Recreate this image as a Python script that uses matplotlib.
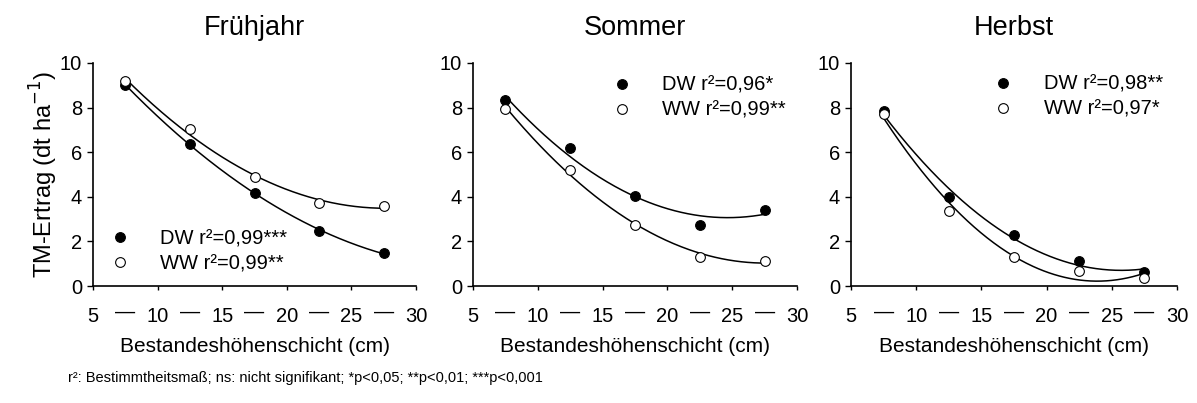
import matplotlib.pyplot as plt
import numpy as np

plt.rcParams['font.family'] = ['Liberation Sans', 'DejaVu Sans']

# Bestandeshoehenschicht midpoints (cm)
schicht = [7.5, 12.5, 17.5, 22.5, 27.5]

seasons = ['Frühjahr', 'Sommer', 'Herbst']

# TM-Ertrag (dt/ha)
dw_fruehjahr = [9.0, 6.37, 4.17, 2.47, 1.47]
ww_fruehjahr = [9.19, 7.03, 4.9, 3.7, 3.58]
dw_sommer = [8.32, 6.17, 4.05, 2.73, 3.42]
ww_sommer = [7.92, 5.22, 2.75, 1.28, 1.13]
dw_herbst = [7.85, 3.97, 2.29, 1.1, 0.65]
ww_herbst = [7.73, 3.35, 1.32, 0.68, 0.37]

dw_labels = ['DW r²=0,99***', 'DW r²=0,96*', 'DW r²=0,98**']
ww_labels = ['WW r²=0,99**', 'WW r²=0,99**', 'WW r²=0,97*']

x_ticks = [5, 10, 15, 20, 25, 30]

dw_all = [dw_fruehjahr, dw_sommer, dw_herbst]
ww_all = [ww_fruehjahr, ww_sommer, ww_herbst]

fig = plt.figure(figsize=(11.97, 4.03), dpi=100)

lefts = [93 / 1197, 473 / 1197, 851 / 1197]
widths = [323 / 1197, 324 / 1197, 326 / 1197]
bottom = (403 - 286) / 403
height = 223 / 403

# legend placement (axes fraction), loc
leg_pos = [('lower left', (0.034, 0.031)), ('upper left', (0.41, 0.97)), ('upper left', (0.418, 0.975))]

for i in range(3):
    ax = fig.add_axes([lefts[i], bottom, widths[i], height])
    xs = np.array(schicht)
    xx = np.linspace(xs[0], xs[-1], 200)
    for ys, fc, lab in [(dw_all[i], 'black', dw_labels[i]), (ww_all[i], 'white', ww_labels[i])]:
        coef = np.polyfit(xs, ys, 2)
        ax.plot(xx, np.polyval(coef, xx), color='black', lw=1.1, zorder=2)
        ax.plot(xs, ys, 'o', ms=7, mfc=fc, mec='black', mew=0.8, label=lab, zorder=3)

    ax.set_xlim(5, 30)
    ax.set_ylim(0, 10)
    ax.set_yticks([0, 2, 4, 6, 8, 10])
    ax.set_xticks(x_ticks)
    ax.set_xticklabels([str(t) for t in x_ticks])
    ax.set_xticks([7.5, 12.5, 17.5, 22.5, 27.5], minor=True)
    ax.set_xticklabels(['—'] * 5, minor=True)
    ax.tick_params(axis='x', which='minor', length=0, pad=12, labelsize=14.5)
    ax.tick_params(axis='x', which='major', length=3, width=1, pad=12, labelsize=14.5)
    ax.tick_params(axis='y', length=4, width=1, labelsize=14.5, pad=4)
    for s in ['top', 'right']:
        ax.spines[s].set_visible(False)
    for s in ['left', 'bottom']:
        ax.spines[s].set_linewidth(1.2)

    ax.set_title(seasons[i], fontsize=19.5, pad=20)
    ax.set_xlabel('Bestandeshöhenschicht (cm)', fontsize=15, labelpad=8)
    if i == 0:
        ax.set_ylabel('TM-Ertrag (dt ha$^{-1}$)', fontsize=17, labelpad=0)

    loc, anchor = leg_pos[i]
    ax.legend(loc=loc, bbox_to_anchor=anchor, frameon=False, fontsize=14.5,
              handletextpad=1.5, handlelength=1.0, labelspacing=0.3,
              borderaxespad=0.0, borderpad=0.3)

fig.text(68 / 1197, 1 - 378 / 403, 'r²: Bestimmtheitsmaß; ns: nicht signifikant; *p<0,05; **p<0,01; ***p<0,001',
         fontsize=10.5, va='center', ha='left')

fig.savefig('out.png', dpi=100)
